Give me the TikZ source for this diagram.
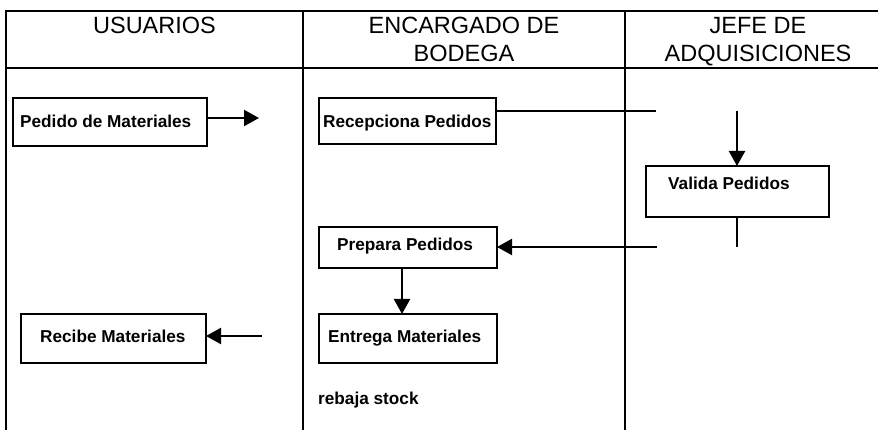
\documentclass[tikz,border=0pt]{standalone}
\usepackage{fontspec}
\setmainfont{Liberation Sans}
\usetikzlibrary{arrows.meta}
\begin{document}
\begin{tikzpicture}[x=1pt,y=-1pt,
  frame/.style={line width=2.5pt},
  box/.style={draw, line width=2pt, rectangle, inner sep=0pt, outer sep=0pt},
  hdr/.style={font=\fontsize{23.5}{28.5}\selectfont, align=center, inner sep=0pt},
  lbl/.style={font=\fontsize{17.2}{20}\selectfont\bfseries, inner sep=0pt, anchor=base west},
  arr/.style={line width=2.2pt, -{Triangle[length=15pt,width=16pt]}},
  link/.style={line width=1.5pt},
  thin/.style={line width=1.2pt}]
\useasboundingbox (0,0) rectangle (878,430);
% frame and lanes
\draw[frame] (4.75,11) -- (878,11);
\draw[frame] (6,68) -- (878,68);
\draw[frame] (6,11) -- (6,430);
\draw[frame] (303,11) -- (303,430);
\draw[frame] (625,11) -- (625,430);
% headers
\node[hdr, anchor=base] (h1) at (154.5,34) {USUARIOS};
\node[hdr, anchor=base] (h2) at (464,62) {ENCARGADO DE\\BODEGA};
\node[hdr, anchor=base] (h3) at (758,62) {JEFE DE\\ADQUISICIONES};
% boxes
\node[box, minimum width=194pt, minimum height=48pt] (b1) at (110,122) {};
\node[box, minimum width=177pt, minimum height=46pt] (b2) at (407.5,121) {};
\node[box, minimum width=183pt, minimum height=51pt] (b3) at (737.5,191.5) {};
\node[box, minimum width=178pt, minimum height=41pt] (b4) at (408,247.5) {};
\node[box, minimum width=178pt, minimum height=49pt] (b5) at (408,338.5) {};
\node[box, minimum width=185pt, minimum height=49pt] (b6) at (113.5,338.5) {};
% texts
\node[lbl] (t1) at (20,128) {Pedido de Materiales};
\node[lbl] (t2) at (323,128) {Recepciona Pedidos};
\node[lbl] (t3) at (668,190) {Valida Pedidos};
\node[lbl] (t4) at (337,251) {Prepara Pedidos};
\node[lbl] (t5) at (328,342.5) {Entrega Materiales};
\node[lbl] (t6) at (40,342.5) {Recibe Materiales};
\node[lbl] (t7) at (318,404) {rebaja stock};
% connectors
\coordinate (c1) at (259,118);
\coordinate (c2) at (656,111);
\coordinate (c3) at (737,111);
\coordinate (c4) at (737,247);
\coordinate (c5) at (657,247);
\coordinate (c6) at (402,290);
\coordinate (c7) at (262,336);
\draw[arr] (b1.east |- c1) -- (c1);
\draw[link] (b2.east |- c2) -- (c2);
\draw[arr] (c3) -- (c3 |- b3.north);
\draw[thin] (c4 |- b3.south) -- (c4);
\draw[arr] (c5) -- (b4.east |- c5);
\draw[arr] (b4.south -| c6) -- (b5.north -| c6);
\draw[arr] (c7) -- (b6.east |- c7);
\end{tikzpicture}
\end{document}
